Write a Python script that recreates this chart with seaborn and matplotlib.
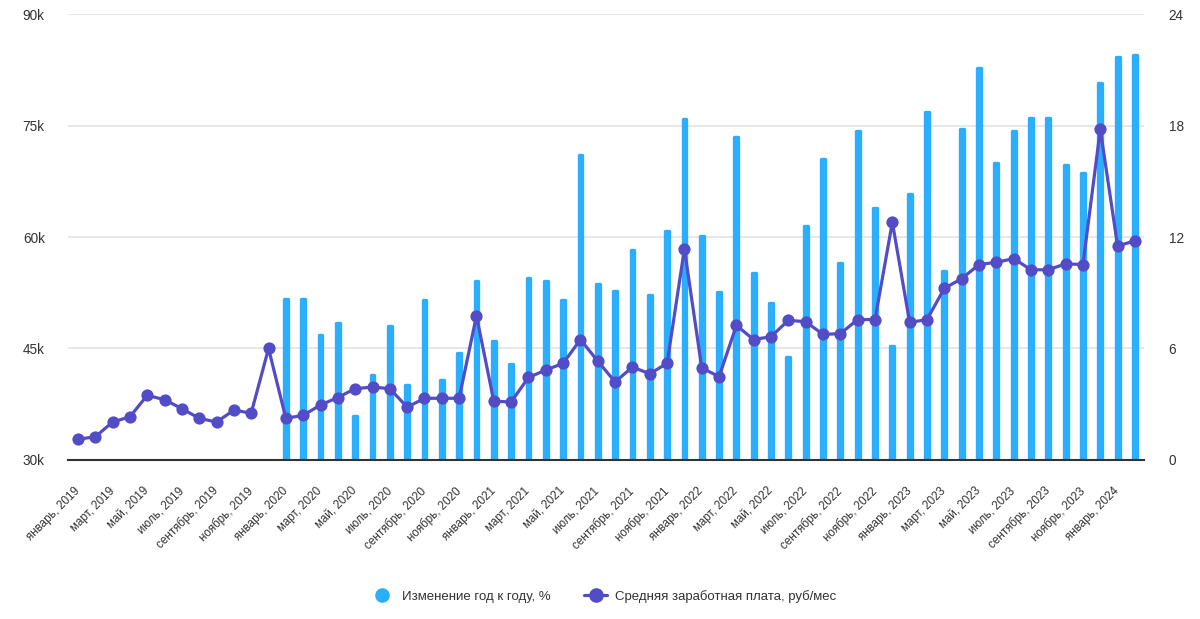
import numpy as np
import pandas as pd
import seaborn as sns
import matplotlib.pyplot as plt
import matplotlib.transforms as mtransforms
from matplotlib.lines import Line2D
from matplotlib.ticker import FuncFormatter

# названия месяцев
meses = ['январь', 'февраль', 'март', 'апрель', 'май', 'июнь',
         'июль', 'август', 'сентябрь', 'октябрь', 'ноябрь', 'декабрь']
anos = [2019, 2020, 2021, 2022, 2023, 2024]
labels = [f'{m}, {a}' for a in anos for m in meses][:62]  # янв 2019 .. фев 2024

# средняя зарплата, руб/мес
salario = [32800, 33100, 35100, 35800, 38700, 38100, 36900, 35600, 35100, 36700, 36300, 45000,
           35600, 36000, 37400, 38400, 39600, 39800, 39600, 37100, 38300, 38300, 38300, 49400,
           37900, 37800, 41100, 42100, 43000, 46200, 43300, 40500, 42500, 41600, 43000, 58400,
           42400, 41200, 48100, 46200, 46600, 48800, 48600, 46900, 47000, 48900, 48900, 62000,
           48500, 48900, 53100, 54400, 56300, 56600, 57100, 55600, 55600, 56400, 56300, 74500,
           58800, 59500]

# изменение год к году, % (с января 2020)
variacao = [8.69, 8.69, 6.70, 7.39, 2.34, 4.59, 7.21, 4.05, 8.59, 4.32, 5.77, 9.64,
            6.43, 5.14, 9.82, 9.64, 8.59, 16.43, 9.46, 9.10, 11.30, 8.86, 12.34, 18.34,
            12.07, 9.05, 17.39, 10.09, 8.43, 5.55, 12.58, 16.18, 10.58, 17.69, 13.55, 6.16,
            14.32, 18.74, 10.18, 17.80, 21.12, 15.98, 17.71, 18.42, 18.42, 15.89, 15.46, 20.32,
            21.71, 21.80]

df_sal = pd.DataFrame({'i': np.arange(len(salario)), 'salario': salario})
df_var = pd.DataFrame({'i': np.arange(12, 12 + len(variacao)), 'variacao': variacao})

cor_barra = '#2AAEFF'
cor_linha = '#524DC6'
cor_texto = '#333333'

sns.set_style('white')
plt.rcParams['font.family'] = ['Liberation Sans', 'DejaVu Sans']

fig = plt.figure(figsize=(12, 6.19), dpi=100)
ax = fig.add_axes([0.057, 0.257, 0.896, 0.72])  # eixo esquerdo - salário
ax2 = ax.twinx()  # eixo direito - barras

# barras (borda grossa com cantos redondos)
sns.barplot(data=df_var, x='i', y='variacao', native_scale=True, color=cor_barra,
            saturation=1, width=0.22, ax=ax2)
for p in ax2.patches:
    p.set_edgecolor(cor_barra)
    p.set_linewidth(2.4)
    p.set_joinstyle('round')

# linha por cima das barras
ax.set_zorder(ax2.get_zorder() + 1)
ax.patch.set_visible(False)
sns.lineplot(data=df_sal, x='i', y='salario', color=cor_linha, linewidth=2.3,
             marker='o', markersize=8.8, markeredgewidth=0, ax=ax)

ax.set_xlim(-0.55, 61.5)
ax2.set_xlim(-0.55, 61.5)
ax.set_ylim(30000, 90000)
ax2.set_ylim(0, 24)
ax.set_yticks([30000, 45000, 60000, 75000, 90000])
ax2.set_yticks([0, 6, 12, 18, 24])
ax.yaxis.set_major_formatter(FuncFormatter(lambda v, p: f'{int(v / 1000)}k'))

ax2.grid(axis='y', color='#e3e3e3', linewidth=1.2)
ax2.set_axisbelow(True)

ax.set_xticks(range(0, 62, 2))
ax.set_xticklabels(labels[::2], rotation=45, ha='right', va='center',
                   rotation_mode='anchor', fontsize=8.4)
desloc = mtransforms.ScaledTranslation(6 / 100, 0, fig.dpi_scale_trans)
for t in ax.get_xticklabels():
    t.set_transform(t.get_transform() + desloc)
ax.set_xlabel('')
ax.set_ylabel('')
ax2.set_xlabel('')
ax2.set_ylabel('')

for a in (ax, ax2):
    for s in ['top', 'left', 'right', 'bottom']:
        a.spines[s].set_visible(False)
    a.tick_params(length=0, colors=cor_texto)
    a.tick_params(axis='y', labelsize=9.8)
ax.spines['bottom'].set_visible(True)
ax.spines['bottom'].set_color('#333333')
ax.spines['bottom'].set_linewidth(1.5)
ax.tick_params(axis='y', pad=17)
ax2.tick_params(axis='y', pad=18)
ax.tick_params(axis='x', pad=21)

# legenda
handles = [Line2D([], [], marker='o', linestyle='none', color=cor_barra, markersize=9.5),
           Line2D([], [], marker='o', color=cor_linha, linewidth=2.3, markersize=9.5)]
fig.legend(handles, ['Изменение год к году, %', 'Средняя заработная плата, руб/мес'],
           loc='center', bbox_to_anchor=(0.503, 0.037), ncol=2, frameon=False,
           fontsize=9.5, labelcolor=cor_texto, columnspacing=2.6, handlelength=1.7,
           handletextpad=0.6)

plt.savefig('out.png', dpi=100)
